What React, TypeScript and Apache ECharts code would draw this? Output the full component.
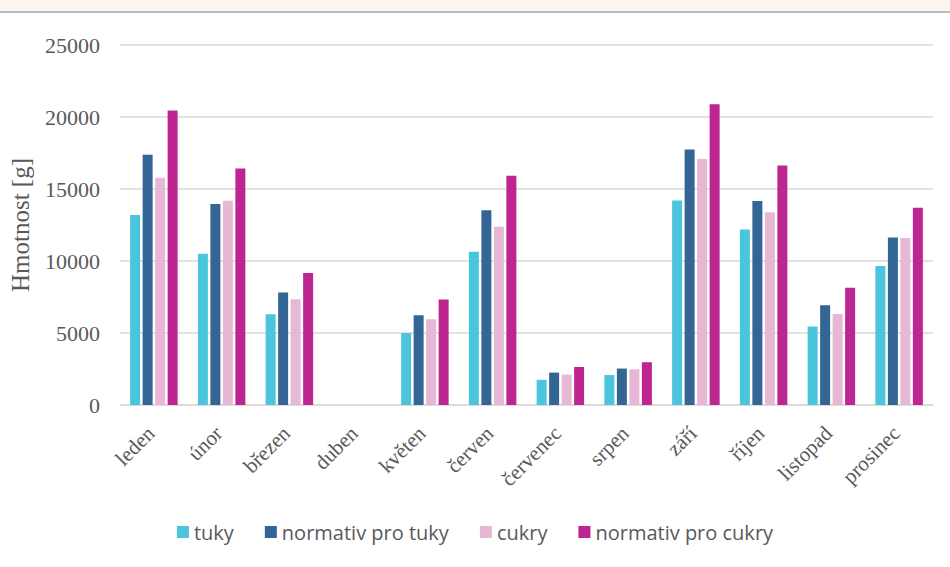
import React, { useEffect, useRef } from "react";
import * as echarts from "echarts";

const categories = ["leden", "únor", "březen", "duben", "květen", "červen", "červenec", "srpen", "září", "říjen", "listopad", "prosinec"];
const tuky = [13200, 10500, 6300, 0, 5000, 10650, 1750, 2080, 14200, 12180, 5450, 9650];
const normativTuky = [17380, 13960, 7820, 0, 6230, 13520, 2250, 2530, 17750, 14170, 6920, 11640];
const cukry = [15780, 14190, 7340, 0, 5950, 12380, 2110, 2480, 17080, 13380, 6320, 11600];
const normativCukry = [20460, 16430, 9170, 0, 7320, 15920, 2640, 2970, 20880, 16640, 8150, 13700];
const seriesNames = ["tuky", "normativ pro tuky", "cukry", "normativ pro cukry"];
const seriesColors = ["#4BC5DB", "#336695", "#E6B8D6", "#BD2590"];

const SERIF = "Liberation Serif";

export default function App() {
  const ref = useRef<HTMLDivElement>(null);
  useEffect(() => {
    if (!ref.current) return;
    const chart = echarts.init(ref.current, null, { renderer: "svg" });
    const data = [tuky, normativTuky, cukry, normativCukry];
    chart.setOption({
      animation: false,
      backgroundColor: "#ffffff",
      graphic: [
        { type: "rect", shape: { x: 0, y: 0, width: 950, height: 11 }, style: { fill: "#FDF4F0" } },
        { type: "rect", shape: { x: 0, y: 11, width: 950, height: 2 }, style: { fill: "#AFC1BD" } },
      ],
      grid: { left: 119, right: 17, top: 45, bottom: 162 },
      legend: {
        bottom: 20,
        left: "center",
        itemWidth: 12,
        itemHeight: 12,
        itemGap: 31,
        icon: "rect",
        textStyle: { fontFamily: "Open Sans", fontSize: 20, color: "#595959" },
        data: seriesNames,
      },
      xAxis: {
        type: "category",
        data: categories,
        axisLine: { lineStyle: { color: "#d9d9d9", width: 1.5 } },
        axisTick: { show: false },
        axisLabel: {
          rotate: 45,
          margin: 22,
          padding: [0, 4, 0, 0],
          interval: 0,
          fontFamily: SERIF,
          fontSize: 21,
          color: "#595959",
        },
      },
      yAxis: {
        type: "value",
        min: 0,
        max: 25000,
        interval: 5000,
        name: "Hmotnost [g]",
        nameLocation: "middle",
        nameGap: 87,
        nameTextStyle: { fontFamily: SERIF, fontSize: 25, color: "#595959" },
        axisLine: { show: false },
        axisTick: { show: false },
        splitLine: { lineStyle: { color: "#d9d9d9", width: 1.5 } },
        axisLabel: {
          margin: 20,
          formatter: (v: number) => String(v),
          fontFamily: SERIF,
          fontSize: 22,
          color: "#595959",
        },
      },
      series: seriesNames.map((name, i) => ({
        name,
        type: "bar",
        data: data[i],
        barWidth: 10,
        barGap: "25%",
        itemStyle: { color: seriesColors[i] },
      })),
    });
    return () => chart.dispose();
  }, []);
  return <div ref={ref} style={{ width: 950, height: 567, position: "absolute", left: 0, top: 0 }} />;
}
